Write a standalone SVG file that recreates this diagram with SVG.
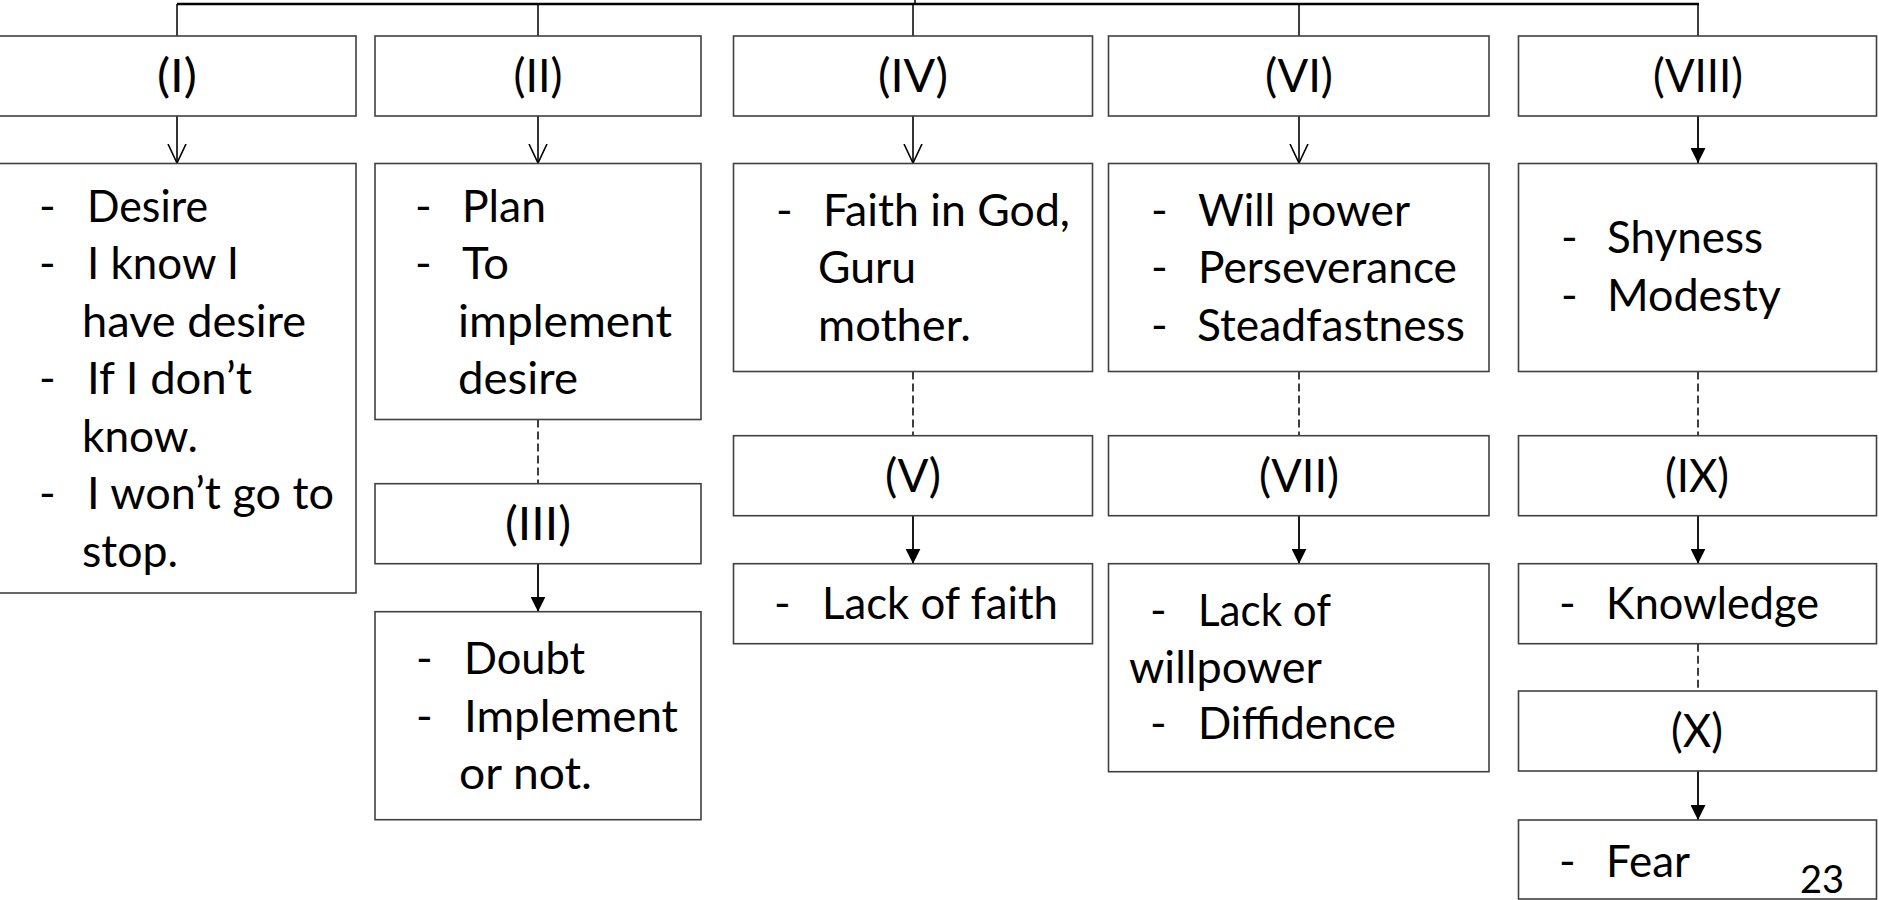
<svg xmlns="http://www.w3.org/2000/svg" width="1879" height="900" viewBox="0 0 1879 900">
  <style>
    .box { fill: #ffffff; stroke: #404040; stroke-width: 1.6; }
    .t { font-family: Lato, "Liberation Sans", sans-serif; font-size: 45px; fill: #000000; }
    .h { font-family: Lato, "Liberation Sans", sans-serif; font-size: 46px; fill: #000000; text-anchor: middle; }
    .pg { font-family: Lato, "Liberation Sans", sans-serif; font-size: 38px; fill: #000000; text-anchor: middle; }
    .bus { fill: none; stroke: #000000; stroke-width: 2.6; }
    .drop { fill: none; stroke: #000000; stroke-width: 1.5; }
    .open { fill: none; stroke: #000000; stroke-width: 1.6; marker-end: url(#openHead); }
    .solid { fill: none; stroke: #000000; stroke-width: 1.8; marker-end: url(#solidHead); }
    .dash { fill: none; stroke: #000000; stroke-width: 1.5; stroke-dasharray: 8 4; }
  </style>
  <defs>
    <marker id="openHead" markerUnits="userSpaceOnUse" viewBox="0 0 20 20" markerWidth="20" markerHeight="20" refX="19" refY="10" orient="auto">
      <path d="M0,1 L19,10 L0,19" fill="none" stroke="#000000" stroke-width="1.6"/>
    </marker>
    <marker id="solidHead" markerUnits="userSpaceOnUse" viewBox="0 0 15 15" markerWidth="15" markerHeight="15" refX="15" refY="7.5" orient="auto">
      <path d="M0,0 L15,7.5 L0,15 Z" fill="#000000"/>
    </marker>
  </defs>

  <!-- connectors -->
  <g id="connectors">
    <path class="bus" d="M177,4 H1699"/>
    <path class="drop" d="M915,0 V4"/>
    <path class="drop" d="M177,4 V36 M538,4 V36 M913,4 V36 M1299,4 V36 M1698,4 V36"/>
    <path class="open" d="M177,116 V163"/>
    <path class="open" d="M538,116 V163"/>
    <path class="open" d="M913,116 V163"/>
    <path class="open" d="M1299,116 V163"/>
    <path class="solid" d="M1698,116 V163"/>
    <path class="dash" d="M538,419.5 V483.7"/>
    <path class="dash" d="M913,371.5 V435.7"/>
    <path class="dash" d="M1299,371.5 V435.7"/>
    <path class="dash" d="M1698,371.5 V435.7"/>
    <path class="dash" d="M1698,643.7 V691"/>
    <path class="solid" d="M538,563.7 V611.7"/>
    <path class="solid" d="M913,515.7 V563.7"/>
    <path class="solid" d="M1299,515.7 V563.7"/>
    <path class="solid" d="M1698,515.7 V563.7"/>
    <path class="solid" d="M1698,771 V820"/>
  </g>

  <!-- column I -->
  <g id="node-I">
    <rect class="box" x="-2" y="36" width="358" height="80"/>
    <text class="h" x="177" y="92" textLength="40" lengthAdjust="spacingAndGlyphs">(I)</text>
  </g>
  <g id="node-I-items">
    <rect class="box" x="-2" y="163.5" width="358" height="429.5"/>
    <text class="t" x="39" y="221.7">-</text>
    <text class="t" x="87" y="221.7" textLength="121" lengthAdjust="spacingAndGlyphs">Desire</text>
    <text class="t" x="39" y="279.3">-</text>
    <text class="t" x="87" y="279.3" textLength="152" lengthAdjust="spacingAndGlyphs">I know I</text>
    <text class="t" x="82" y="336.7" textLength="224" lengthAdjust="spacingAndGlyphs">have desire</text>
    <text class="t" x="39" y="394">-</text>
    <text class="t" x="87" y="394" textLength="165" lengthAdjust="spacingAndGlyphs">If I don’t</text>
    <text class="t" x="82" y="451.7" textLength="116" lengthAdjust="spacingAndGlyphs">know.</text>
    <text class="t" x="39" y="509.3">-</text>
    <text class="t" x="87" y="509.3" textLength="247" lengthAdjust="spacingAndGlyphs">I won’t go to</text>
    <text class="t" x="82" y="566.7" textLength="96" lengthAdjust="spacingAndGlyphs">stop.</text>
  </g>

  <!-- column II / III -->
  <g id="node-II">
    <rect class="box" x="375" y="36" width="326" height="80"/>
    <text class="h" x="538" y="92" textLength="49" lengthAdjust="spacingAndGlyphs">(II)</text>
  </g>
  <g id="node-II-items">
    <rect class="box" x="375" y="163.5" width="326" height="256"/>
    <text class="t" x="415" y="221.7">-</text>
    <text class="t" x="462" y="221.7" textLength="84" lengthAdjust="spacingAndGlyphs">Plan</text>
    <text class="t" x="415" y="279.3">-</text>
    <text class="t" x="462" y="279.3" textLength="47" lengthAdjust="spacingAndGlyphs">To</text>
    <text class="t" x="458" y="336.7" textLength="214" lengthAdjust="spacingAndGlyphs">implement</text>
    <text class="t" x="458" y="394" textLength="120" lengthAdjust="spacingAndGlyphs">desire</text>
  </g>
  <g id="node-III">
    <rect class="box" x="375" y="483.7" width="326" height="80"/>
    <text class="h" x="538" y="539.7" textLength="66" lengthAdjust="spacingAndGlyphs">(III)</text>
  </g>
  <g id="node-III-items">
    <rect class="box" x="375" y="611.7" width="326" height="208"/>
    <text class="t" x="416" y="674">-</text>
    <text class="t" x="464" y="674" textLength="121" lengthAdjust="spacingAndGlyphs">Doubt</text>
    <text class="t" x="416" y="731.7">-</text>
    <text class="t" x="464" y="731.7" textLength="214" lengthAdjust="spacingAndGlyphs">Implement</text>
    <text class="t" x="459" y="789" textLength="133" lengthAdjust="spacingAndGlyphs">or not.</text>
  </g>

  <!-- column IV / V -->
  <g id="node-IV">
    <rect class="box" x="733.5" y="36" width="359" height="80"/>
    <text class="h" x="913" y="92" textLength="70" lengthAdjust="spacingAndGlyphs">(IV)</text>
  </g>
  <g id="node-IV-items">
    <rect class="box" x="733.5" y="163.5" width="359" height="208"/>
    <text class="t" x="776" y="226">-</text>
    <text class="t" x="823" y="226" textLength="247" lengthAdjust="spacingAndGlyphs">Faith in God,</text>
    <text class="t" x="818" y="283.3" textLength="98" lengthAdjust="spacingAndGlyphs">Guru</text>
    <text class="t" x="818" y="341" textLength="153" lengthAdjust="spacingAndGlyphs">mother.</text>
  </g>
  <g id="node-V">
    <rect class="box" x="733.5" y="435.7" width="359" height="80"/>
    <text class="h" x="913" y="491.7" textLength="56" lengthAdjust="spacingAndGlyphs">(V)</text>
  </g>
  <g id="node-V-items">
    <rect class="box" x="733.5" y="563.7" width="359" height="80"/>
    <text class="t" x="774" y="619.3">-</text>
    <text class="t" x="822" y="619.3" textLength="236" lengthAdjust="spacingAndGlyphs">Lack of faith</text>
  </g>

  <!-- column VI / VII -->
  <g id="node-VI">
    <rect class="box" x="1108.5" y="36" width="380.5" height="80"/>
    <text class="h" x="1299" y="92" textLength="68" lengthAdjust="spacingAndGlyphs">(VI)</text>
  </g>
  <g id="node-VI-items">
    <rect class="box" x="1108.5" y="163.5" width="380.5" height="208"/>
    <text class="t" x="1151" y="226">-</text>
    <text class="t" x="1198" y="226" textLength="212" lengthAdjust="spacingAndGlyphs">Will power</text>
    <text class="t" x="1151" y="283.3">-</text>
    <text class="t" x="1198" y="283.3" textLength="259" lengthAdjust="spacingAndGlyphs">Perseverance</text>
    <text class="t" x="1151" y="341">-</text>
    <text class="t" x="1197" y="341" textLength="268" lengthAdjust="spacingAndGlyphs">Steadfastness</text>
  </g>
  <g id="node-VII">
    <rect class="box" x="1108.5" y="435.7" width="380.5" height="80"/>
    <text class="h" x="1299" y="491.7" textLength="80" lengthAdjust="spacingAndGlyphs">(VII)</text>
  </g>
  <g id="node-VII-items">
    <rect class="box" x="1108.5" y="563.7" width="380.5" height="208"/>
    <text class="t" x="1150" y="626">-</text>
    <text class="t" x="1198" y="626" textLength="133" lengthAdjust="spacingAndGlyphs">Lack of</text>
    <text class="t" x="1129" y="682.7" textLength="193" lengthAdjust="spacingAndGlyphs">willpower</text>
    <text class="t" x="1150" y="739.3">-</text>
    <text class="t" x="1198" y="739.3" textLength="198" lengthAdjust="spacingAndGlyphs">Diffidence</text>
  </g>

  <!-- column VIII / IX / X -->
  <g id="node-VIII">
    <rect class="box" x="1518.5" y="36" width="358" height="80"/>
    <text class="h" x="1698" y="92" textLength="90" lengthAdjust="spacingAndGlyphs">(VIII)</text>
  </g>
  <g id="node-VIII-items">
    <rect class="box" x="1518.5" y="163.5" width="358" height="208"/>
    <text class="t" x="1561" y="253.3">-</text>
    <text class="t" x="1607" y="253.3" textLength="156" lengthAdjust="spacingAndGlyphs">Shyness</text>
    <text class="t" x="1561" y="311">-</text>
    <text class="t" x="1607" y="311" textLength="174" lengthAdjust="spacingAndGlyphs">Modesty</text>
  </g>
  <g id="node-IX">
    <rect class="box" x="1518.5" y="435.7" width="358" height="80"/>
    <text class="h" x="1697" y="491.7" textLength="64" lengthAdjust="spacingAndGlyphs">(IX)</text>
  </g>
  <g id="node-IX-items">
    <rect class="box" x="1518.5" y="563.7" width="358" height="80"/>
    <text class="t" x="1559" y="619.3">-</text>
    <text class="t" x="1606" y="619.3" textLength="213" lengthAdjust="spacingAndGlyphs">Knowledge</text>
  </g>
  <g id="node-X">
    <rect class="box" x="1518.5" y="691" width="358" height="80"/>
    <text class="h" x="1697" y="747" textLength="52" lengthAdjust="spacingAndGlyphs">(X)</text>
  </g>
  <g id="node-X-items">
    <rect class="box" x="1518.5" y="820" width="358" height="79"/>
    <text class="t" x="1559" y="877">-</text>
    <text class="t" x="1606" y="877" textLength="84" lengthAdjust="spacingAndGlyphs">Fear</text>
  </g>

  <!-- slide number -->
  <text class="pg" x="1822" y="893">23</text>
</svg>
